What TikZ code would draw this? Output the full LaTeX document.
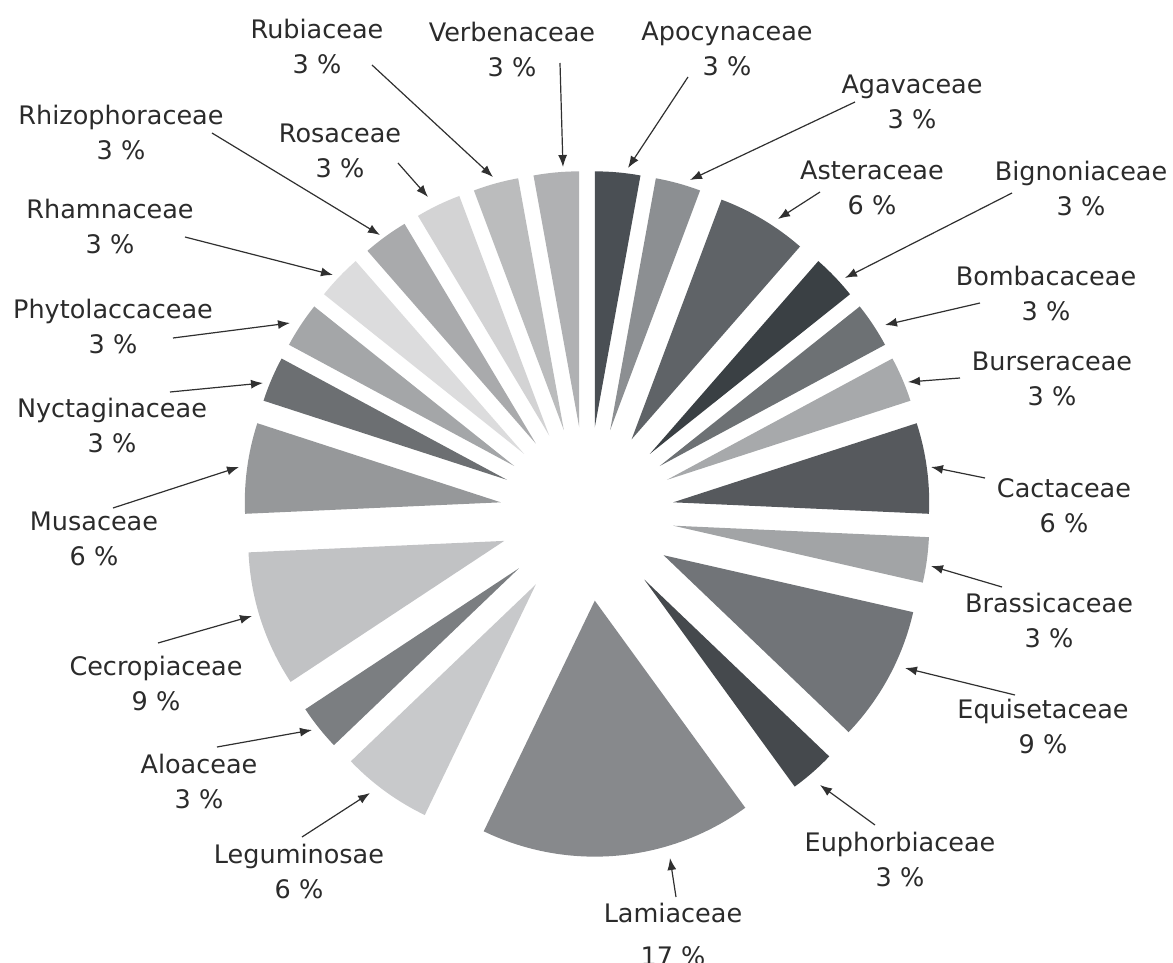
\documentclass[tikz,border=0pt]{standalone}
\usepackage{fontspec}
\setmainfont{DejaVu Sans}
\usepackage{tikz}
\usetikzlibrary{arrows.meta}

\definecolor{labeltext}{HTML}{2B2B2B}
\definecolor{leadgray}{HTML}{303030}
\definecolor{cApo}{HTML}{4A4F54}
\definecolor{cAga}{HTML}{8C8F92}
\definecolor{cAst}{HTML}{5F6367}
\definecolor{cBig}{HTML}{3A4044}
\definecolor{cBom}{HTML}{6D7174}
\definecolor{cBur}{HTML}{A7A9AB}
\definecolor{cCac}{HTML}{56595D}
\definecolor{cBra}{HTML}{A2A4A6}
\definecolor{cEqu}{HTML}{717478}
\definecolor{cEup}{HTML}{45494D}
\definecolor{cLam}{HTML}{87898C}
\definecolor{cLeg}{HTML}{C8C9CB}
\definecolor{cAlo}{HTML}{7B7E81}
\definecolor{cCec}{HTML}{C1C2C4}
\definecolor{cMus}{HTML}{96989A}
\definecolor{cNyc}{HTML}{6C6F72}
\definecolor{cPhy}{HTML}{A4A6A8}
\definecolor{cRha}{HTML}{DCDCDD}
\definecolor{cRhi}{HTML}{A9AAAC}
\definecolor{cRos}{HTML}{D3D3D4}
\definecolor{cRub}{HTML}{BBBCBD}
\definecolor{cVer}{HTML}{B0B1B3}

% exploded slice: from unit #1 to unit #2 (35 units), colour #3
\newcommand{\pieslice}[3]{%
  \pgfmathsetmacro{\pieS}{90-#1*360/35}%
  \pgfmathsetmacro{\pieE}{90-#2*360/35}%
  \pgfmathsetmacro{\pieM}{(\pieS+\pieE)/2}%
  \fill[#3] (\pieM:87) -- ++(\pieS:256) arc[start angle=\pieS, end angle=\pieE, radius=256] -- cycle;%
}

\begin{document}
\begin{tikzpicture}[x=1pt, y=1pt, >={Latex[length=12pt,width=9pt]},
labelnode/.style={align=center, text=labeltext, font=\fontsize{25.5}{35}\selectfont, inner sep=0pt},
leadline/.style={draw=leadgray, line width=1.2pt, ->},
]
\useasboundingbox (-587,-448) rectangle (586,514);

%Slices
\pieslice{0}{1}{cApo}
\pieslice{1}{2}{cAga}
\pieslice{2}{4}{cAst}
\pieslice{4}{5}{cBig}
\pieslice{5}{6}{cBom}
\pieslice{6}{7}{cBur}
\pieslice{7}{9}{cCac}
\pieslice{9}{10}{cBra}
\pieslice{10}{13}{cEqu}
\pieslice{13}{14}{cEup}
\pieslice{14}{20}{cLam}
\pieslice{20}{22}{cLeg}
\pieslice{22}{23}{cAlo}
\pieslice{23}{26}{cCec}
\pieslice{26}{28}{cMus}
\pieslice{28}{29}{cNyc}
\pieslice{29}{30}{cPhy}
\pieslice{30}{31}{cRha}
\pieslice{31}{32}{cRhi}
\pieslice{32}{33}{cRos}
\pieslice{33}{34}{cRub}
\pieslice{34}{35}{cVer}

%Tips
\coordinate (apoT) at (41,346);
\coordinate (agaT) at (103,334);
\coordinate (astT) at (191,295);
\coordinate (bigT) at (258,236);
\coordinate (bomT) at (298,189);
\coordinate (burT) at (321,132);
\coordinate (cacT) at (344,47);
\coordinate (braT) at (344,-52);
\coordinate (equT) at (318,-154);
\coordinate (eupT) at (233,-271);
\coordinate (lamT) at (83,-344);
\coordinate (legT) at (-217,-279);
\coordinate (aloT) at (-275,-216);
\coordinate (cecT) at (-335,-102);
\coordinate (musT) at (-348,47);
\coordinate (nycT) at (-324,131);
\coordinate (phyT) at (-297,191);
\coordinate (rhaT) at (-254,239);
\coordinate (rhiT) at (-207,279);
\coordinate (rosT) at (-159,317);
\coordinate (rubT) at (-94,337);
\coordinate (verT) at (-24,347);

%Nodes
\node[labelnode] (apo) at (140,465)    {Apocynaceae\\3 \%};
\node[labelnode] (aga) at (325,412.5)  {Agavaceae\\3 \%};
\node[labelnode] (ast) at (285,326)    {Asteraceae\\6 \%};
\node[labelnode] (big) at (494,326)    {Bignoniaceae\\3 \%};
\node[labelnode] (bom) at (459,220.5)  {Bombacaceae\\3 \%};
\node[labelnode] (bur) at (465,135)    {Burseraceae\\3 \%};
\node[labelnode] (cac) at (477,8)      {Cactaceae\\6 \%};
\node[labelnode] (bra) at (462,-106.5) {Brassicaceae\\3 \%};
\node[labelnode] (equ) at (456,-212.5) {Equisetaceae\\9 \%};
\node[labelnode] (eup) at (313,-345)   {Euphorbiaceae\\3 \%};
\node[labelnode] (lam) at (86,-420.5)  {Lamiaceae\\[8pt]17 \%};
\node[labelnode] (leg) at (-288,-357.5) {Leguminosae\\6 \%};
\node[labelnode] (alo) at (-388,-267.5) {Aloaceae\\3 \%};
\node[labelnode] (cec) at (-431,-169.5) {Cecropiaceae\\9 \%};
\node[labelnode] (mus) at (-493,-24.5) {Musaceae\\6 \%};
\node[labelnode] (nyc) at (-475,88.5)  {Nyctaginaceae\\3 \%};
\node[labelnode] (phy) at (-474,187.5) {Phytolaccaceae\\3 \%};
\node[labelnode] (rha) at (-477,287.5) {Rhamnaceae\\3 \%};
\node[labelnode] (rhi) at (-466,381.5) {Rhizophoraceae\\3 \%};
\node[labelnode] (ros) at (-247,363)   {Rosaceae\\3 \%};
\node[labelnode] (rub) at (-270,467.5) {Rubiaceae\\3 \%};
\node[labelnode] (ver) at (-75,465)    {Verbenaceae\\3 \%};

%Lines
\draw[leadline] ([shift={(-39,-28)}]apo.center) -- (apoT);
\draw[leadline] ([shift={(-57,-0.5)}]aga.center) -- (agaT);
\draw[leadline] ([shift={(-52,-4)}]ast.center) -- (astT);
\draw[leadline] ([shift={(-69,-5)}]big.center) -- (bigT);
\draw[leadline] ([shift={(-66,-9.5)}]bom.center) -- (bomT);
\draw[leadline] ([shift={(-92,1)}]bur.center) -- (burT);
\draw[leadline] ([shift={(-79,28)}]cac.center) -- (cacT);
\draw[leadline] ([shift={(-47,33.5)}]bra.center) -- (braT);
\draw[leadline] ([shift={(-28,31.5)}]equ.center) -- (equT);
\draw[leadline] ([shift={(-25,34)}]eup.center) -- (eupT);
\draw[leadline] ([shift={(3,37.5)}]lam.center) -- (lamT);
\draw[leadline] ([shift={(3,34.5)}]leg.center) -- (legT);
\draw[leadline] ([shift={(18,34.5)}]alo.center) -- (aloT);
\draw[leadline] ([shift={(2,40.5)}]cec.center) -- (cecT);
\draw[leadline] ([shift={(19,30.5)}]mus.center) -- (musT);
\draw[leadline] ([shift={(58,33.5)}]nyc.center) -- (nycT);
\draw[leadline] ([shift={(60,-11.5)}]phy.center) -- (phyT);
\draw[leadline] ([shift={(75,-10.5)}]rha.center) -- (rhaT);
\draw[leadline] ([shift={(91,-0.5)}]rhi.center) -- (rhiT);
\draw[leadline] ([shift={(58,-12)}]ros.center) -- (rosT);
\draw[leadline] ([shift={(55,-18.5)}]rub.center) -- (rubT);
\draw[leadline] ([shift={(48,-14)}]ver.center) -- (verT);
\end{tikzpicture}
\end{document}
